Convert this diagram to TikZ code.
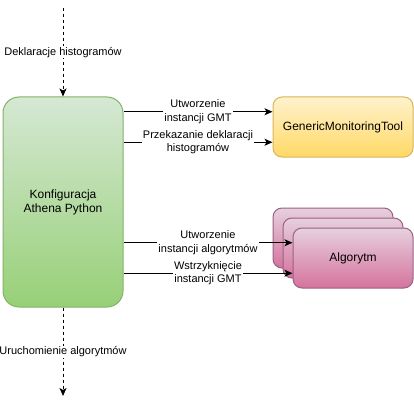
\documentclass[tikz,border=0pt]{standalone}
\usepackage{fontspec}
\setmainfont{Liberation Sans}
\usetikzlibrary{arrows.meta,calc}
\definecolor{zielGora}{HTML}{D5E8D4}
\definecolor{zielDol}{HTML}{97D077}
\definecolor{zielRam}{HTML}{82B366}
\definecolor{zoltGora}{HTML}{FFF2CC}
\definecolor{zoltDol}{HTML}{FFD966}
\definecolor{zoltRam}{HTML}{D6B656}
\definecolor{rozGora}{HTML}{E6D0DE}
\definecolor{rozDol}{HTML}{D5739D}
\definecolor{rozRam}{HTML}{996185}
\tikzset{
  blok/.style={inner sep=0pt, align=center, line width=1pt,
    font=\fontsize{12}{14}\selectfont},
  strz/.style={line width=1pt, -{Stealth[length=8pt,width=7pt,inset=2pt]}},
  kresk/.style={strz, dash pattern=on 3pt off 3pt},
  etyk/.style={fill=white, inner sep=1pt, align=center,
    font=\fontsize{11}{13.5}\selectfont}
}
\begin{document}
\begin{tikzpicture}[x=1pt,y=-1pt]
    \useasboundingbox (0,0) rectangle (414,406);
    % Konfiguracja
    \node[blok, draw=zielRam, top color=zielGora, bottom color=zielDol,
      rounded corners=16pt, minimum width=120pt, minimum height=210pt]
      (konf) at (63,202) {Konfiguracja\\Athena Python};
    % GenericMonitoringTool
    \node[blok, draw=zoltRam, top color=zoltGora, bottom color=zoltDol,
      rounded corners=9pt, minimum width=140pt, minimum height=60pt]
      (gmt) at (343,127) {GenericMonitoringTool};
    % Algorytmy (stos)
    \foreach \i/\x/\y in {1/333/238, 2/343/248, 3/353/258}
      \node[blok, draw=rozRam, top color=rozGora, bottom color=rozDol,
        rounded corners=9pt, minimum width=120pt, minimum height=60pt]
        (alg\i) at (\x,\y) {};
    \node[font=\fontsize{12}{14}\selectfont] at (alg3) {Algorytm};
    % Punkty na krawedziach
    \coordinate (g1) at ($(gmt.north west)!0.25!(gmt.south west)$);
    \coordinate (g2) at ($(gmt.north west)!0.75!(gmt.south west)$);
    \coordinate (a1) at ($(alg3.north west)!0.25!(alg3.south west)$);
    \coordinate (a2) at ($(alg3.north west)!0.75!(alg3.south west)$);
    \coordinate (wej) at (63,8);
    \coordinate (wyj) at (63,396);
    % Strzalki przerywane
    \draw[kresk] (wej) -- (konf.north)
      node[etyk, midway] {Deklaracje histogramów};
    \draw[kresk] (konf.south) -- (wyj)
      node[etyk, midway] {Uruchomienie algorytmów};
    % Strzalki do GMT
    \draw[strz] (konf.east |- g1) -- (g1)
      node[etyk, midway] {Utworzenie\\instancji GMT};
    \draw[strz] (konf.east |- g2) -- (g2)
      node[etyk, midway] {Przekazanie deklaracji\\histogramów};
    % Strzalki do algorytmow
    \draw[strz] (konf.east |- a1) -- (a1)
      node[etyk, midway] {Utworzenie\\instancji algorytmów};
    \draw[strz] (konf.east |- a2) -- (a2)
      node[etyk, midway] {Wstrzyknięcie\\instancji GMT};
\end{tikzpicture}
\end{document}
